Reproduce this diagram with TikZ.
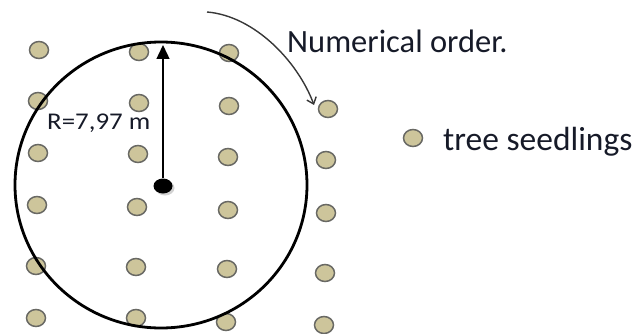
\documentclass[tikz,border=0pt]{standalone}
\usepackage{fontspec}
\setmainfont{Carlito}
\usetikzlibrary{arrows.meta,shapes.geometric}
\definecolor{seed}{RGB}{205,197,155}
\definecolor{seededge}{RGB}{105,105,100}
\definecolor{txt}{RGB}{22,26,40}
\definecolor{arr}{RGB}{55,55,55}
\tikzset{
  seedling/.style={draw=seededge, line width=1.5pt, fill=seed, ellipse, inner sep=0pt, minimum width=19pt, minimum height=17pt},
  lbl/.style={text=txt, inner sep=0pt},
}
\begin{document}
\begin{tikzpicture}[x=1pt,y=-1pt]
\useasboundingbox (0,0) rectangle (634,334);
% seedlings
\foreach \n/\x/\y in {a1/39/50,a2/38/101,a3/38/153,a4/37/205,a5/36/266,a6/36/318,
  b1/139/52,b2/139/103,b3/138/154,b4/137/207,b5/136/267,b6/136/318,
  c1/229/53,c2/229/106,c3/228/157,c4/228/210,c5/227/269,c6/226/322,
  d2/328/109,d3/326/160,d4/326/213,d5/325/273,d6/324/325}
  \node[seedling] (\n) at (\x,\y) {};
% plot circle
\draw[line width=2.8pt] (161,185) ellipse [x radius=146, y radius=143];
% centre
\fill[black!35, opacity=0.5] (165,188) ellipse [x radius=9.5, y radius=7.5];
\node[draw=none, fill=black, ellipse, minimum width=19pt, minimum height=15pt, inner sep=0pt] (ctr) at (163,186) {};
\coordinate (top) at (163,45);
\draw[line width=1.4pt, -{Triangle[length=14pt,width=13pt]}] (ctr.north) -- (top);
\node[lbl, anchor=base west, font=\fontsize{24}{28}\selectfont, xscale=1.12] (rad) at (47,129) {R=7,97 m};
% numerical order arrow
\coordinate (s) at (207,12);
\coordinate (e) at (314,105);
\draw[arr, line width=1.4pt, -{Straight Barb[length=6pt,width=10pt]}] (s) .. controls (255,16) and (298,62) .. (e);
\node[lbl, anchor=base west, font=\fontsize{32.5}{36}\selectfont] (num) at (287,53) {Numerical order.};
% legend
\node[seedling] (leg) at (413,138) {};
\node[lbl, anchor=base west, font=\fontsize{33.5}{38}\selectfont] (legt) at (443,150) {tree seedlings};
\end{tikzpicture}
\end{document}
